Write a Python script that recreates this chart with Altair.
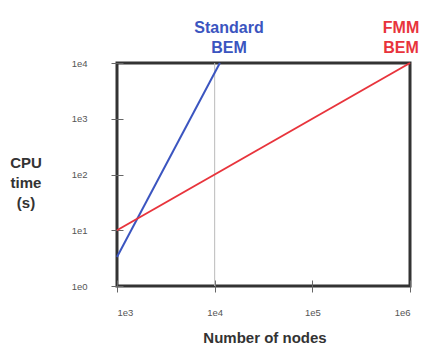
import altair as alt
import pandas as pd

# ---- data ----
methods = ["Standard BEM", "Standard BEM", "FMM BEM", "FMM BEM"]
nodes = [1000, 11300, 1000, 1000000]
cpu_time = [3.3, 10000, 10, 10000]
x_tick_values = [1e3, 1e4, 1e5, 1e6]
y_tick_values = [1, 10, 100, 1000, 10000]
grid_x = [1e4]

BLUE = "#3b55c0"
RED = "#e8343c"
DARK = "#333333"
FONT = "Liberation Sans"

df = pd.DataFrame({"nodes": nodes, "cpu": cpu_time, "method": methods})
grid_df = pd.DataFrame({"nodes": grid_x})

xs = alt.Scale(type="log", domain=[1e3, 1e6])
ys = alt.Scale(type="log", domain=[1, 1e4])
label_expr = "'1e' + round(log(datum.value)/LN10)"

x_axis = alt.Axis(values=x_tick_values, labelExpr=label_expr, title=None, grid=False,
                  domain=False, offset=-6, tickSize=12, tickColor="#666", tickWidth=1,
                  labelFontSize=9.5, labelColor="#555", labelFont=FONT, labelPadding=15)
y_axis = alt.Axis(values=y_tick_values, labelExpr=label_expr, title=None, grid=False,
                  domain=False, offset=-6, tickSize=12, tickColor="#666", tickWidth=1,
                  labelFontSize=9.5, labelColor="#555", labelFont=FONT, labelPadding=24)

grid = alt.Chart(grid_df).mark_rule(color="#bbbbbb", strokeWidth=1).encode(
    x=alt.X("nodes:Q", scale=xs, axis=x_axis)
)

lines = alt.Chart(df).mark_line(strokeWidth=2).encode(
    x=alt.X("nodes:Q", scale=xs, axis=x_axis),
    y=alt.Y("cpu:Q", scale=ys, axis=y_axis),
    color=alt.Color("method:N", scale=alt.Scale(domain=["Standard BEM", "FMM BEM"],
                                                range=[BLUE, RED]), legend=None),
    detail="method:N",
)


def label(text, x, y, color, size=16):
    d = pd.DataFrame({"t": [text]})
    return alt.Chart(d).mark_text(font=FONT, fontWeight="bold", fontSize=size,
                                  color=color, lineBreak="\n", lineHeight=20,
                                  align="center", baseline="middle").encode(
        text="t:N", x=alt.value(x), y=alt.value(y))


std_label = label("Standard\nBEM", 112, -35, BLUE)
fmm_label = label("FMM\nBEM", 284, -35, RED)
y_title = label("CPU\ntime\n(s)", -91, 100, DARK, 15)
x_title = label("Number of nodes", 148, 275, DARK, 15)

chart = alt.layer(grid, lines, std_label, fmm_label, y_title, x_title).properties(
    width=293, height=223,
    autosize=alt.AutoSizeParams(type="none"),
    padding={"left": 109, "top": 55, "right": 10, "bottom": 60},
).configure_view(stroke=DARK, strokeWidth=3)

chart.save("out.html", embed_options={"renderer": "svg", "actions": False})
